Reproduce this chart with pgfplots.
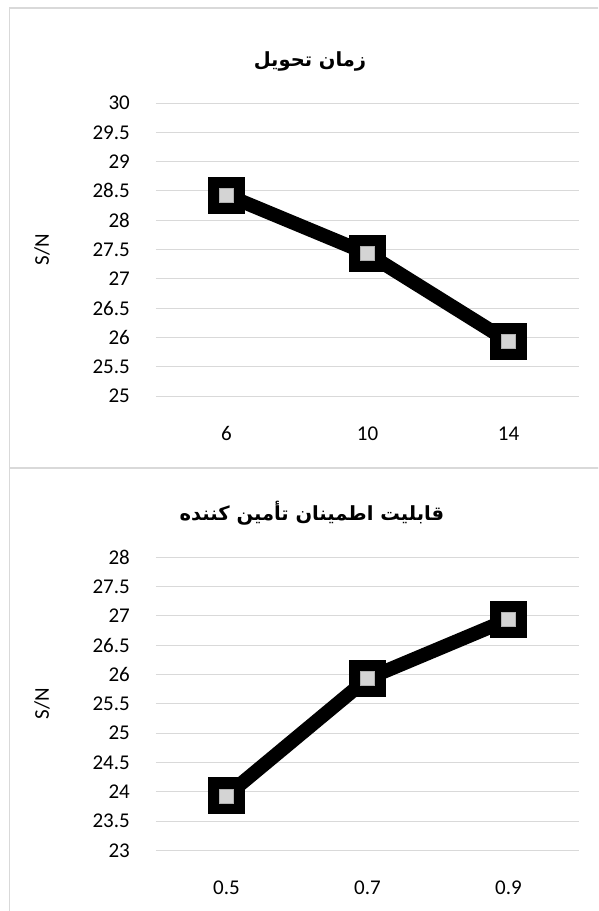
\documentclass[border=0pt]{standalone}
\usepackage{fontspec}
\setmainfont{Carlito}
\newfontfamily\arabicfont[Script=Arabic]{DejaVu Sans}
\usepackage{pgfplots}
\pgfplotsset{compat=1.18}
\TeXXeTstate=1
\definecolor{gridc}{HTML}{D9D9D9}
\definecolor{framec}{HTML}{D9D9D9}
\pgfplotsset{
  panel/.style={
    scale only axis, width=423pt, height=293pt,
    xmin=-0.5, xmax=2.5, xtick={0,1,2},
    axis line style={draw=none}, major tick style={draw=none},
    ymajorgrids, grid style={gridc, line width=1pt},
    ytick distance=0.5,
    /pgf/number format/assume math mode=true,
    /pgf/number format/.cd, fixed, precision=1, /pgfplots/.cd,
    tick label style={font=\fontsize{21}{21}\selectfont, inner sep=0pt},
    yticklabel style={anchor=east, xshift=-26pt},
    xticklabel style={anchor=base, yshift=-44pt},
    every axis y label/.style={at={(axis description cs:0,0.5)}, rotate=90, anchor=center, yshift=114pt, font=\fontsize{21}{21}\selectfont},
    ylabel={S/N},
    clip=false,
  },
  thickline/.style={black, line width=14pt, mark=square*, mark size=18pt, mark options={solid, fill=black, draw=black, line width=0pt}},
  innermark/.style={only marks, mark=square*, mark size=7pt, mark options={fill=black!17, draw=black!30, line width=0.4pt}},
}
\begin{document}
\begin{tikzpicture}[x=1pt,y=1pt]
\useasboundingbox (0,0) rectangle (598,-911);
\begin{scope}
\clip (0,0) rectangle (598,-911);
\draw[framec, line width=1.2pt] (9.5,-8) rectangle (640,-468);
\draw[framec, line width=1.2pt] (9.5,-468) rectangle (640,-930);
\end{scope}
\node[font=\arabicfont\bfseries\fontsize{19.5}{19.5}\selectfont] at (310,-61) {\beginR زمان تحویل\endR};
\node[font=\arabicfont\bfseries\fontsize{19.5}{19.5}\selectfont] at (312,-513.5) {\beginR قابلیت اطمینان تأمین کننده\endR};
\begin{axis}[panel, at={(156pt,-396pt)}, anchor=south west,
  ymin=25, ymax=30, xticklabels={6,10,14}]
\addplot[thickline] coordinates {(0,28.43) (1,27.43) (2,25.93)};
\addplot[innermark] coordinates {(0,28.43) (1,27.43) (2,25.93)};
\end{axis}
\begin{axis}[panel, at={(156pt,-850.3pt)}, anchor=south west,
  ymin=23, ymax=28, xticklabels={0.5,0.7,0.9}]
\addplot[thickline] coordinates {(0,23.93) (1,25.93) (2,26.94)};
\addplot[innermark] coordinates {(0,23.93) (1,25.93) (2,26.94)};
\end{axis}
\end{tikzpicture}
\end{document}
